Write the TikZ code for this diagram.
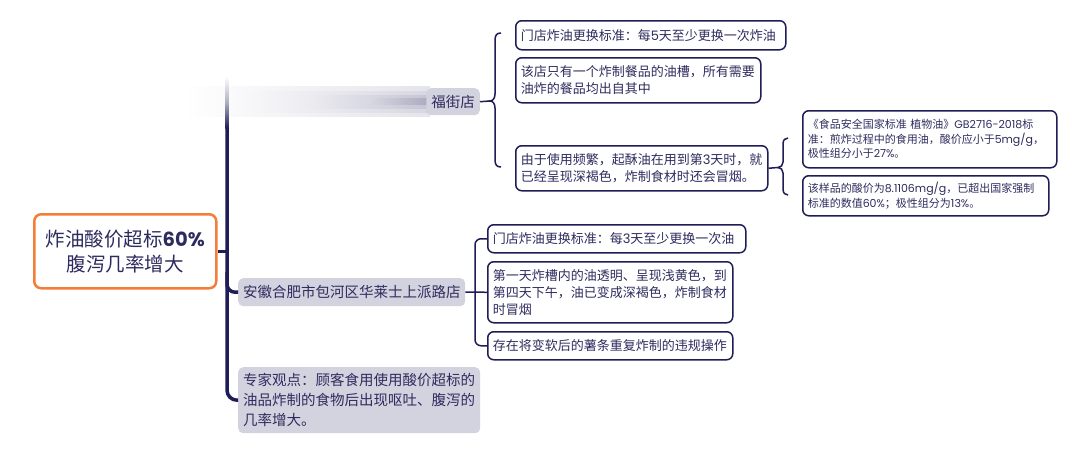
\documentclass[tikz,border=0pt]{standalone}
\usepackage{fontspec}
\setmainfont{Noto Sans CJK SC}
\newfontfamily\lat{Poppins}
\definecolor{navy}{HTML}{1F1D57}
\definecolor{ink}{HTML}{2E2C5E}
\definecolor{chip}{HTML}{D3D2DF}
\definecolor{orng}{HTML}{F47D38}
\tikzset{
  spine/.style={draw=navy, line width=3.5pt},
  conn/.style={draw=navy, line width=1.5pt},
  leaf/.style={draw=navy, line width=1.5pt, rounded corners=6pt, fill=white, anchor=north west,
    inner xsep=5pt, inner ysep=0pt, align=left, text=ink, font=\fontsize{13}{17}\selectfont},
  small/.style={leaf, font=\fontsize{11}{14.5}\selectfont},
  branch/.style={fill=chip, rounded corners=5pt, anchor=north west, inner xsep=5pt, inner ysep=0pt,
    align=left, text=ink, font=\fontsize{14.5}{20}\selectfont},
  rootbox/.style={draw=orng, line width=2.5pt, rounded corners=7pt, fill=white, anchor=north west,
    align=center, text=ink, font=\fontsize{19.5}{25}\selectfont}
}
\begin{document}
\begin{tikzpicture}[x=1pt,y=-1pt]
\useasboundingbox[fill=white] (0,0) rectangle (1072,456);

% root
\node[rootbox, minimum width=182pt, minimum height=74pt] (root) at (33,213)
  {炸油酸价超标{\lat\bfseries 60\%}\\腹泻几率增大};

% blurred first branch (layered soft streaks)
\shade[left color=white, right color=navy!12] (183,86.5) rectangle (430,116.5);
\shade[left color=navy!2, right color=navy!18] (230,91) rectangle (430,112);
\shade[left color=navy!7.5, right color=navy!26] (300,95) rectangle (430,108);
\shade[left color=navy!16, right color=navy!38] (365,98.5) rectangle (430,104.5);
\node[branch, anchor=north east, minimum height=27pt] (b1) at (480,88) {福街店};
\shade[top color=white, bottom color=navy, middle color=navy!35] (225.25,76) rectangle (228.75,128);

% branches
\node[branch, minimum width=227pt, minimum height=28pt, text width=217pt] (b2) at (238,278)
  {安徽合肥市包河区华莱士上派路店};
\node[branch, minimum width=242pt, minimum height=66pt, text width=232pt] (b3) at (238,367)
  {专家观点：顾客食用使用酸价超标的\\油品炸制的食物后出现呕吐、腹泻的\\几率增大。};

% spine
\coordinate (sp) at (227,128);
\draw[spine, rounded corners=10pt] (sp) |- (b3.west);
\draw[spine, rounded corners=8pt] (227,272) |- (b2.west);
\draw[spine] (root.east) -- (root.east -| sp);

% children of branch 1
\node[leaf, minimum width=270pt, minimum height=29pt, text width=260pt] (c1) at (515,20)
  {门店炸油更换标准：每{\lat 5}天至少更换一次炸油};
\node[leaf, minimum width=245pt, minimum height=45pt, text width=235pt] (c2) at (515,57)
  {该店只有一个炸制餐品的油槽，所有需要\\油炸的餐品均出自其中};
\node[leaf, minimum width=252pt, minimum height=45pt, text width=242pt] (c3) at (515,145)
  {由于使用频繁，起酥油在用到第{\lat 3}天时，就\\已经呈现深褐色，炸制食材时还会冒烟。};

\coordinate (t1) at (490,101);
\draw[conn] (b1.east) -- (t1);
\draw[conn] (501,33) .. controls (497,33) and (495,35) .. (495,40) -- (495,94)
  .. controls (495,98) and (493,101) .. (t1)
  .. controls (493,101) and (495,104) .. (495,108) -- (495,160)
  .. controls (495,165) and (497,167) .. (501,167);

% children of c3
\node[small, minimum width=254pt, minimum height=57pt, text width=244pt] (d1) at (802,110)
  {《食品安全国家标准 植物油》{\lat GB2716-2018}标\\准：煎炸过程中的食用油，酸价应小于{\lat 5mg/g}，\\极性组分小于{\lat 27\%}。};
\node[small, minimum width=246pt, minimum height=40pt, text width=236pt] (d2) at (802,175)
  {该样品的酸价为{\lat 8.1106mg/g}，已超出国家强制\\标准的数值{\lat 60\%}；极性组分为{\lat 13\%}。};

\coordinate (t2) at (778,167.5);
\draw[conn] (c3.east) -- (t2);
\draw[conn] (788,138) .. controls (785,138) and (783,140) .. (783,144) -- (783,162)
  .. controls (783,165) and (781,167.5) .. (t2)
  .. controls (781,167.5) and (783,170) .. (783,173) -- (783,189)
  .. controls (783,193) and (785,195) .. (788,195);

% children of branch 2
\node[leaf, minimum width=258pt, minimum height=28pt, text width=248pt] (e1) at (487,224)
  {门店炸油更换标准：每{\lat 3}天至少更换一次油};
\node[leaf, minimum width=245pt, minimum height=61pt, text width=235pt] (e2) at (487,261)
  {第一天炸槽内的油透明、呈现浅黄色，到\\第四天下午，油已变成深褐色，炸制食材\\时冒烟};
\node[leaf, minimum width=245pt, minimum height=28pt, text width=235pt] (e3) at (487,331)
  {存在将变软后的薯条重复炸制的违规操作};

\coordinate (k) at (475,292);
\draw[conn] (b2.east) -- (e2.west);
\draw[conn, rounded corners=6pt] (e1.west) -| (k) |- (e3.west);
\end{tikzpicture}
\end{document}
